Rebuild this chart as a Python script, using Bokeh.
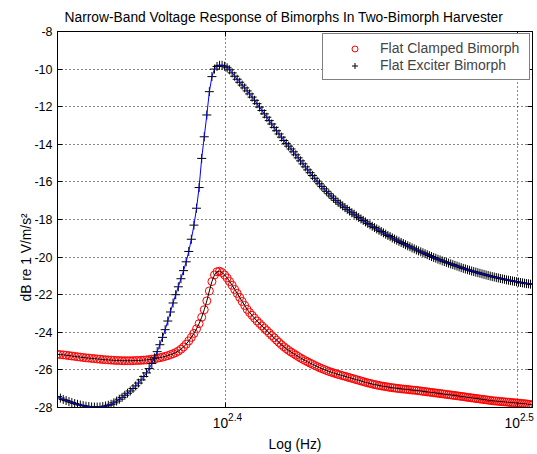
import math
from bokeh.plotting import figure
from bokeh.models import (FixedTicker, Legend, LegendItem, Range1d, Title,
                          LinearAxis, LogAxis, CustomLabelingPolicy)
from bokeh.embed import file_html
from bokeh.resources import INLINE

# ---------------- data ----------------
freq_hz = [
    220.0, 220.5, 221.0, 221.5, 222.0, 222.5, 223.0, 223.5, 224.0, 224.5,
    225.0, 225.5, 226.0, 226.5, 227.0, 227.5, 228.0, 228.5, 229.0, 229.5,
    230.0, 230.5, 231.0, 231.5, 232.0, 232.5, 233.0, 233.5, 234.0, 234.5,
    235.0, 235.5, 236.0, 236.5, 237.0, 237.5, 238.0, 238.5, 239.0, 239.5,
    240.0, 240.5, 241.0, 241.5, 242.0, 242.5, 243.0, 243.5, 244.0, 244.5,
    245.0, 245.5, 246.0, 246.5, 247.0, 247.5, 248.0, 248.5, 249.0, 249.5,
    250.0, 250.5, 251.0, 251.5, 252.0, 252.5, 253.0, 253.5, 254.0, 254.5,
    255.0, 255.5, 256.0, 256.5, 257.0, 257.5, 258.0, 258.5, 259.0, 259.5,
    260.0, 260.5, 261.0, 261.5, 262.0, 262.5, 263.0, 263.5, 264.0, 264.5,
    265.0, 265.5, 266.0, 266.5, 267.0, 267.5, 268.0, 268.5, 269.0, 269.5,
    270.0, 270.5, 271.0, 271.5, 272.0, 272.5, 273.0, 273.5, 274.0, 274.5,
    275.0, 275.5, 276.0, 276.5, 277.0, 277.5, 278.0, 278.5, 279.0, 279.5,
    280.0, 280.5, 281.0, 281.5, 282.0, 282.5, 283.0, 283.5, 284.0, 284.5,
    285.0, 285.5, 286.0, 286.5, 287.0, 287.5, 288.0, 288.5, 289.0, 289.5,
    290.0, 290.5, 291.0, 291.5, 292.0, 292.5, 293.0, 293.5, 294.0, 294.5,
    295.0, 295.5, 296.0, 296.5, 297.0, 297.5, 298.0, 298.5, 299.0, 299.5,
    300.0, 300.5, 301.0, 301.5, 302.0, 302.5, 303.0, 303.5, 304.0, 304.5,
    305.0, 305.5, 306.0, 306.5, 307.0, 307.5, 308.0, 308.5, 309.0, 309.5,
    310.0, 310.5, 311.0, 311.5, 312.0, 312.5, 313.0, 313.5, 314.0, 314.5,
    315.0, 315.5, 316.0, 316.5, 317.0, 317.5, 318.0, 318.5, 319.0, 319.5,
    320.0,
]

clamped_db = [
    -25.17, -25.19, -25.20, -25.22, -25.24, -25.26, -25.28, -25.30, -25.32, -25.34,
    -25.36, -25.37, -25.39, -25.40, -25.42, -25.43, -25.45, -25.46, -25.47, -25.48,
    -25.49, -25.50, -25.50, -25.51, -25.51, -25.51, -25.51, -25.51, -25.50, -25.50,
    -25.49, -25.48, -25.47, -25.45, -25.43, -25.41, -25.38, -25.35, -25.32, -25.28,
    -25.24, -25.19, -25.14, -25.08, -25.00, -24.90, -24.78, -24.63, -24.46, -24.27,
    -24.06, -23.82, -23.54, -23.20, -22.80, -22.33, -21.80, -21.30, -20.95, -20.78,
    -20.75, -20.82, -20.95, -21.11, -21.30, -21.50, -21.72, -21.93, -22.14, -22.36,
    -22.57, -22.78, -22.95, -23.10, -23.25, -23.40, -23.53, -23.66, -23.78, -23.91,
    -24.04, -24.17, -24.29, -24.42, -24.54, -24.66, -24.77, -24.87, -24.96, -25.05,
    -25.13, -25.21, -25.29, -25.37, -25.44, -25.51, -25.57, -25.64, -25.70, -25.76,
    -25.82, -25.88, -25.93, -25.98, -26.03, -26.08, -26.12, -26.16, -26.20, -26.24,
    -26.27, -26.31, -26.34, -26.38, -26.41, -26.45, -26.48, -26.52, -26.55, -26.59,
    -26.62, -26.66, -26.69, -26.72, -26.75, -26.78, -26.80, -26.83, -26.85, -26.87,
    -26.89, -26.91, -26.93, -26.95, -26.96, -26.98, -26.99, -27.01, -27.02, -27.03,
    -27.04, -27.06, -27.07, -27.08, -27.09, -27.11, -27.12, -27.14, -27.15, -27.17,
    -27.18, -27.20, -27.21, -27.23, -27.24, -27.26, -27.27, -27.29, -27.30, -27.32,
    -27.33, -27.35, -27.36, -27.38, -27.39, -27.41, -27.42, -27.44, -27.46, -27.47,
    -27.49, -27.50, -27.52, -27.53, -27.55, -27.56, -27.58, -27.59, -27.61, -27.62,
    -27.64, -27.65, -27.66, -27.67, -27.68, -27.69, -27.70, -27.71, -27.72, -27.73,
    -27.74, -27.75, -27.76, -27.77, -27.78, -27.79, -27.80, -27.81, -27.83, -27.84,
    -27.86,
]

exciter_db = [
    -27.42, -27.50, -27.57, -27.63, -27.69, -27.74, -27.79, -27.83, -27.87, -27.90,
    -27.93, -27.95, -27.97, -27.98, -27.98, -27.97, -27.95, -27.92, -27.88, -27.83,
    -27.75, -27.66, -27.56, -27.46, -27.35, -27.24, -27.12, -26.99, -26.85, -26.70,
    -26.53, -26.35, -26.16, -25.93, -25.66, -25.36, -25.03, -24.66, -24.27, -23.86,
    -23.40, -22.92, -22.44, -22.00, -21.58, -21.15, -20.72, -20.25, -19.70, -19.05,
    -18.30, -17.40, -16.30, -14.75, -13.60, -12.44, -11.20, -10.40, -10.00, -9.86,
    -9.80, -9.80, -9.85, -9.93, -10.04, -10.20, -10.38, -10.54, -10.70, -10.85,
    -11.00, -11.16, -11.32, -11.49, -11.66, -11.84, -12.02, -12.20, -12.38, -12.56,
    -12.74, -12.92, -13.10, -13.28, -13.45, -13.62, -13.80, -13.95, -14.10, -14.25,
    -14.40, -14.56, -14.72, -14.88, -15.04, -15.20, -15.36, -15.51, -15.66, -15.81,
    -15.96, -16.10, -16.24, -16.37, -16.50, -16.63, -16.75, -16.87, -16.98, -17.08,
    -17.18, -17.28, -17.37, -17.46, -17.55, -17.64, -17.72, -17.81, -17.89, -17.97,
    -18.05, -18.13, -18.21, -18.28, -18.36, -18.43, -18.50, -18.57, -18.64, -18.71,
    -18.78, -18.85, -18.91, -18.98, -19.04, -19.10, -19.16, -19.22, -19.28, -19.34,
    -19.40, -19.45, -19.51, -19.56, -19.62, -19.67, -19.72, -19.77, -19.82, -19.87,
    -19.92, -19.97, -20.02, -20.06, -20.11, -20.15, -20.20, -20.24, -20.28, -20.32,
    -20.36, -20.40, -20.44, -20.48, -20.52, -20.56, -20.60, -20.63, -20.67, -20.70,
    -20.74, -20.77, -20.80, -20.83, -20.86, -20.89, -20.92, -20.95, -20.98, -21.01,
    -21.04, -21.06, -21.09, -21.11, -21.14, -21.16, -21.18, -21.21, -21.23, -21.25,
    -21.27, -21.29, -21.31, -21.33, -21.35, -21.37, -21.39, -21.41, -21.42, -21.44,
    -21.46,
]

x_tick_values = [251.188643, 316.227766]   # 10^2.4, 10^2.5
x_tick_base = ["10", "10"]
x_tick_exponents = ["2.4", "2.5"]
y_tick_values = [-28, -26, -24, -22, -20, -18, -16, -14, -12, -10, -8]
y_tick_labels = ["-28", "-26", "-24", "-22", "-20", "-18", "-16", "-14", "-12", "-10", "-8"]

title_text = "Narrow-Band Voltage Response of Bimorphs In Two-Bimorph Harvester"
x_label = "Log (Hz)"
y_label = "dB re 1 V/m/s\u00b2"
series_names = ["Flat Clamped Bimorph", "Flat Exciter Bimorph"]

FONT = "Liberation Sans"
X0, X1 = 220, 320

# ---------------- figure ----------------
p = figure(width=537, height=454, x_axis_type="log",
           x_range=Range1d(X0, X1), y_range=Range1d(-28, -8),
           output_backend="svg", toolbar_location=None,
           min_border_left=57, min_border_right=4,
           min_border_top=31, min_border_bottom=46)
p.background_fill_color = "white"
p.border_fill_color = "white"
p.outline_line_color = "black"
p.outline_line_width = 1

p.title.text = title_text
p.title.align = "left"
p.title.offset = 7
p.title.standoff = 5
p.title.text_font = FONT
p.title.text_font_size = "13.8px"
p.title.text_font_style = "normal"
p.title.text_color = "black"

no_labels = CustomLabelingPolicy(code="""
for (const i of indices) { indices.unset(i) }
return indices
""")

xt = FixedTicker(ticks=x_tick_values, minor_ticks=[])
yt = FixedTicker(ticks=y_tick_values, minor_ticks=[])

p.xaxis.ticker = xt
p.yaxis.ticker = yt
p.xgrid.ticker = xt
p.ygrid.ticker = yt
for g in (p.xgrid, p.ygrid):
    g.grid_line_color = "#111111"
    g.grid_line_dash = "1 3"
    g.grid_line_width = 1

for ax in (p.xaxis, p.yaxis):
    ax.axis_line_color = "black"
    ax.major_tick_line_color = "black"
    ax.major_tick_in = 5
    ax.major_tick_out = 0
    ax.minor_tick_in = 0
    ax.minor_tick_out = 0

p.yaxis.major_label_overrides = {v: s for v, s in zip(y_tick_values, y_tick_labels)}
p.yaxis.major_label_text_font = FONT
p.yaxis.major_label_text_font_size = "12.5px"
p.yaxis.major_label_text_color = "black"
p.yaxis.major_label_standoff = 5
p.xaxis.major_label_policy = no_labels
p.xaxis.major_label_text_font_size = "1px"
p.xaxis.major_label_standoff = 0

right_ax = LinearAxis(ticker=yt, major_label_policy=no_labels,
                      major_label_text_font_size="1px",
                      major_label_standoff=0, major_tick_in=5, major_tick_out=0,
                      minor_tick_in=0, minor_tick_out=0, axis_line_color="black")
top_ax = LogAxis(ticker=xt, major_label_policy=no_labels,
                 major_label_text_font_size="1px",
                 major_label_standoff=0, major_tick_in=5, major_tick_out=0,
                 minor_tick_in=0, minor_tick_out=0, axis_line_color="black")
p.add_layout(right_ax, "right")
p.add_layout(top_ax, "above")

# x tick labels "10" with superscript exponent, built from two label-only axes
px_per_decade = 476 / math.log10(X1 / X0)
def shifted(vals, px):
    return [v * 10 ** (px / px_per_decade) for v in vals]

sup_pos = shifted(x_tick_values, 9.5)
base_pos = shifted(x_tick_values, -5.2)
sup_ax = LogAxis(ticker=FixedTicker(ticks=sup_pos, minor_ticks=[]),
                 major_label_overrides={v: s for v, s in zip(sup_pos, x_tick_exponents)},
                 major_label_text_font=FONT, major_label_text_font_size="10px",
                 major_label_text_color="black", major_label_standoff=1,
                 major_tick_in=0, major_tick_out=0, minor_tick_in=0, minor_tick_out=0,
                 axis_line_color=None)
base_ax = LogAxis(ticker=FixedTicker(ticks=base_pos, minor_ticks=[]),
                  major_label_overrides={v: s for v, s in zip(base_pos, x_tick_base)},
                  major_label_text_font=FONT, major_label_text_font_size="13.8px",
                  major_label_text_color="black", major_label_standoff=-6,
                  major_tick_in=0, major_tick_out=0, minor_tick_in=0, minor_tick_out=0,
                  axis_line_color=None,
                  axis_label=x_label, axis_label_text_font=FONT,
                  axis_label_text_font_size="13.8px", axis_label_text_font_style="normal",
                  axis_label_text_color="black", axis_label_standoff=6)
p.add_layout(sup_ax, "below")
p.add_layout(base_ax, "below")

p.add_layout(Title(text=y_label, align="left", offset=106, standoff=-5,
                   text_font=FONT, text_font_size="13.8px", text_font_style="normal",
                   text_color="black"), "left")

# ---------------- series ----------------
r_clamped = p.scatter(freq_hz, clamped_db, marker="circle", size=8,
                      line_color="#ff0000", fill_color=None, line_width=1)
p.line(freq_hz, clamped_db, line_color="black", line_width=1)
r_exciter = p.scatter(freq_hz, exciter_db, marker="cross", size=9,
                      line_color="black", line_width=1)
p.line(freq_hz, exciter_db, line_color="#0000ff", line_width=1)

legend = Legend(items=[LegendItem(label=series_names[0], renderers=[r_clamped]),
                       LegendItem(label=series_names[1], renderers=[r_exciter])],
                location="top_right", margin=2, padding=6, spacing=1,
                glyph_width=51, glyph_height=15, label_height=15,
                label_width=143, label_standoff=0,
                label_text_font=FONT, label_text_font_size="14px",
                border_line_color="black", border_line_width=1,
                background_fill_color="white", background_fill_alpha=1.0)
p.add_layout(legend, "center")

open("out.html", "w").write(file_html(p, INLINE))
